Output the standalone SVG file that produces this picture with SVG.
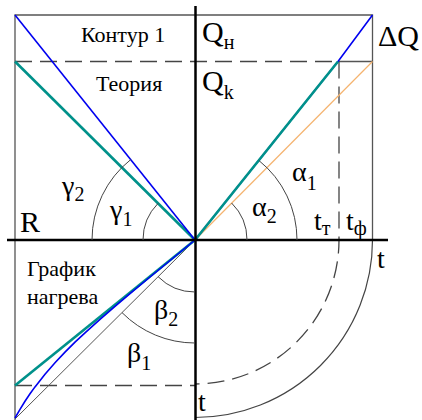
<svg xmlns="http://www.w3.org/2000/svg" width="422" height="420" viewBox="0 0 422 420">
<style>
.frame{fill:none;stroke:#555;stroke-width:1.3}
.axis{fill:none;stroke:#000;stroke-width:2.5}
.dash{fill:none;stroke:#444;stroke-width:1.3;stroke-dasharray:17 8}
.arc{fill:none;stroke:#444;stroke-width:1}
.blue{fill:none;stroke:#0000f0;stroke-width:1.6}
.teal{fill:none;stroke:#00918a;stroke-width:2.6}
.orange{fill:none;stroke:#f5b36e;stroke-width:1.2}
.gray{fill:none;stroke:#555;stroke-width:1}
text{font-family:"Liberation Serif","Times New Roman",serif;fill:#000}
.lbl{font-size:22px}
.big{font-size:30px}
.sub{font-size:20px}
.gr{font-size:28px}
</style>
<g id="frame">
<path class="frame" d="M15,420 V15 H372.5 V240"/>
<path class="frame" d="M338,61.5 H372.5"/>
<path class="arc" d="M372.5,240 A177.5,177.5 0 0 1 195,417.5" style="stroke-width:1.2"/>
</g>
<g id="guides">
<path class="dash" d="M15,61.5 H338"/>
<path class="dash" d="M339,61.5 V240 A144,144 0 0 1 195,384"/>
<path class="dash" d="M15,385.5 H195"/>
</g>
<g id="connectors">
<path class="gray" d="M15,419 L195,240"/>
<path class="teal" d="M15,61.5 L195,240"/>
<path class="blue" d="M15,15 L195,240"/>
<path class="orange" d="M195,240 L372.5,61.5"/>
<path class="blue" d="M195,240 L338,61.5 L372.5,15"/>
<path class="teal" d="M195,240 L338,61.5"/>
<path class="teal" d="M15,385.5 L195,240"/>
<path class="blue" d="M15,418 L20,409.3 L25,401.3 L30,393.8 L35,386.9 L45,374.2 L55,362.8 L65,352.1 L75,342.2 L85,332.8 L100,319.3 L115,306.3 L130,293.6 L150,277 L195,240"/>
</g>
<g id="axes">
<path class="axis" d="M195.5,6 V420"/>
<path class="axis" d="M7,240 H388"/>
</g>
<g id="angles">
<path class="arc" d="M92,240 A103,103 0 0 1 130.7,159.6"/>
<path class="arc" d="M143,240 A52,52 0 0 1 158.1,203.3"/>
<path class="arc" d="M297,240 A102,102 0 0 0 258.9,160.5"/>
<path class="arc" d="M247,240 A52,52 0 0 0 231.6,203"/>
<path class="arc" d="M158.1,276.7 A52,52 0 0 0 195,292"/>
<path class="arc" d="M122,312.6 A103,103 0 0 0 195,343"/>
</g>
<g id="labels">
<text class="lbl" x="81" y="42">Контур 1</text>
<text class="lbl" x="96" y="91">Теория</text>
<text class="big" x="202" y="42">Q<tspan class="sub" dy="7">н</tspan></text>
<text class="big" x="202" y="91">Q<tspan class="sub" dy="8">k</tspan></text>
<text class="big" x="378" y="46">ΔQ</text>
<text class="big" x="20" y="232">R</text>
<text class="gr" x="62" y="195">γ<tspan class="sub" dy="6">2</tspan></text>
<text class="gr" x="110" y="219">γ<tspan class="sub" dy="7">1</tspan></text>
<text class="gr" x="292" y="181">α<tspan class="sub" dy="9">1</tspan></text>
<text class="gr" x="252" y="216">α<tspan class="sub" dy="7">2</tspan></text>
<text class="gr" x="314" y="230">t<tspan class="sub" dy="5">т</tspan></text>
<text class="gr" x="346" y="230">t<tspan class="sub" dy="5">ф</tspan></text>
<text class="gr" x="377" y="268">t</text>
<text class="gr" x="198" y="411">t</text>
<text class="gr" x="154" y="319">β<tspan class="sub" dy="7">2</tspan></text>
<text class="gr" x="127" y="362">β<tspan class="sub" dy="8">1</tspan></text>
<text class="lbl" x="27" y="276">График</text>
<text class="lbl" x="27" y="304">нагрева</text>
</g>
</svg>
